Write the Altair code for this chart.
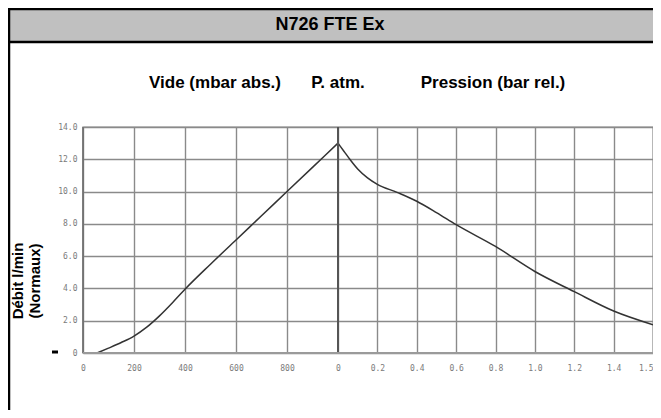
import altair as alt
import pandas as pd

# ---- data ----
vac_mbar = [55, 100, 150, 200, 250, 300, 350, 400, 500, 600, 700, 800, 900, 1000]
vac_flow = [0.0, 0.3, 0.65, 1.05, 1.6, 2.3, 3.1, 3.95, 5.5, 7.0, 8.5, 10.0, 11.5, 13.0]

press_bar = [0.0, 0.03, 0.06, 0.1, 0.15, 0.2, 0.3, 0.4, 0.5, 0.6, 0.8, 1.0, 1.2, 1.4, 1.6]
press_flow = [13.0, 12.5, 12.0, 11.4, 10.85, 10.45, 9.95, 9.4, 8.7, 7.95, 6.6, 5.05, 3.8, 2.6, 1.75]

vac_ticks = [0, 200, 400, 600, 800]
press_ticks = [0.0, 0.2, 0.4, 0.6, 0.8, 1.0, 1.2, 1.4, 1.6]
y_ticks = [0, 2, 4, 6, 8, 10, 12, 14]

title_text = "N726 FTE Ex"
header_vide = "Vide (mbar abs.)"
header_patm = "P. atm."
header_press = "Pression (bar rel.)"
y_title = ["Débit l/min", "(Normaux)"]

# combined position: vacuum in mbar, pressure offset after 1000 (1 bar = 1000 units)
rows = [{"u": m, "flow": f, "side": "vide"} for m, f in zip(vac_mbar, vac_flow)]
rows += [{"u": 1000 + b * 1000, "flow": f, "side": "pression"} for b, f in zip(press_bar, press_flow)]
df = pd.DataFrame(rows)
tick_vals = vac_ticks + [1000 + b * 1000 for b in press_ticks]

FONT = "Liberation Sans, Arial, sans-serif"
W, H = 570, 226

xscale = alt.Scale(domain=[0, 1000, 2600], range=[0, 255, W], nice=False, zero=False)
yscale = alt.Scale(domain=[0, 14], nice=False)

xaxis = alt.Axis(
    values=tick_vals, title=None, grid=True, domain=False, ticks=False,
    labelExpr="datum.value < 1000 ? format(datum.value, 'd') : (datum.value == 1000 ? '0' : (datum.value >= 2600 ? '1.5' : format((datum.value - 1000) / 1000, '.1f')))",
    labelAlign=alt.expr("datum.value >= 2600 ? 'right' : 'center'"),
    labelFont="DejaVu Sans Mono", labelFontSize=8, labelColor="#7a7a7a", labelPadding=11,
    gridColor="#8a8a8a", gridWidth=1.4, labelFlush=False, labelOverlap=False,
)
yaxis = alt.Axis(
    values=y_ticks, title=None, grid=True, domain=False, ticks=False,
    labelExpr="datum.value == 0 ? '0' : format(datum.value, '.1f')",
    labelFont="DejaVu Sans Mono", labelFontSize=8, labelColor="#7a7a7a", labelPadding=6,
    gridColor="#8a8a8a", gridWidth=1.4, labelOverlap=False, labelFlush=False,
)

line = alt.Chart(df).mark_line(color="#333333", strokeWidth=1.5, interpolate="monotone").encode(
    x=alt.X("u:Q", scale=xscale, axis=xaxis),
    y=alt.Y("flow:Q", scale=yscale, axis=yaxis),
    detail="side:N",
    order="u:Q",
)

patm = alt.Chart(pd.DataFrame({"u": [1000]})).mark_rule(color="#555555", strokeWidth=2).encode(
    x=alt.X("u:Q", scale=xscale), y=alt.value(0), y2=alt.value(H)
)
left_edge = alt.Chart(pd.DataFrame({"u": [0]})).mark_rule(color="#6e6e6e", strokeWidth=1.6).encode(
    x=alt.X("u:Q", scale=xscale), y=alt.value(0), y2=alt.value(H)
)
bottom_edge = alt.Chart(pd.DataFrame({"k": [0]})).mark_rule(color="#9a9a9a", strokeWidth=2).encode(
    y=alt.value(H), y2=alt.value(H), x=alt.value(0), x2=alt.value(W)
)

title_bar = alt.Chart(pd.DataFrame({"k": [0]})).mark_rect(color="#c0c0c0").encode(
    x=alt.value(-75), x2=alt.value(580), y=alt.value(-119), y2=alt.value(-86)
)
top_border = alt.Chart(pd.DataFrame({"k": [0]})).mark_rule(color="black", strokeWidth=2.5).encode(
    x=alt.value(-75), x2=alt.value(580), y=alt.value(-118), y2=alt.value(-118)
)
title_under = alt.Chart(pd.DataFrame({"k": [0]})).mark_rule(color="black", strokeWidth=2.5).encode(
    x=alt.value(-75), x2=alt.value(580), y=alt.value(-85), y2=alt.value(-85)
)
left_border = alt.Chart(pd.DataFrame({"k": [0]})).mark_rule(color="black", strokeWidth=2.5).encode(
    x=alt.value(-74), x2=alt.value(-74), y=alt.value(-119), y2=alt.value(290)
)
dash = alt.Chart(pd.DataFrame({"k": [0]})).mark_rule(color="black", strokeWidth=3).encode(
    x=alt.value(-31), x2=alt.value(-25), y=alt.value(H - 1), y2=alt.value(H - 1)
)


def label(txt, x, y, size, angle=0):
    return alt.Chart(pd.DataFrame({"t": [txt]})).mark_text(
        font=FONT, fontSize=size, fontWeight="bold", color="black",
        align="center", baseline="middle", angle=angle,
    ).encode(text="t:N", x=alt.value(x), y=alt.value(y))


texts = [
    label(title_text, 247, -102, 18),
    label(header_vide, 132, -44, 17),
    label(header_patm, 255, -44, 17),
    label(header_press, 410, -44, 17),
    label(y_title[0], -65, 154, 15, angle=270),
    label(y_title[1], -48, 154, 15, angle=270),
]

chart = alt.layer(
    title_bar, top_border, title_under, left_border, line, patm, left_edge, bottom_edge, dash, *texts
).properties(
    width=W, height=H,
    padding={"left": 75, "top": 119, "right": 0, "bottom": 57},
    autosize="none",
).configure_view(stroke="#b0b0b0", strokeWidth=1.5)

chart.save("out.html", embed_options={"renderer": "svg", "actions": False})
